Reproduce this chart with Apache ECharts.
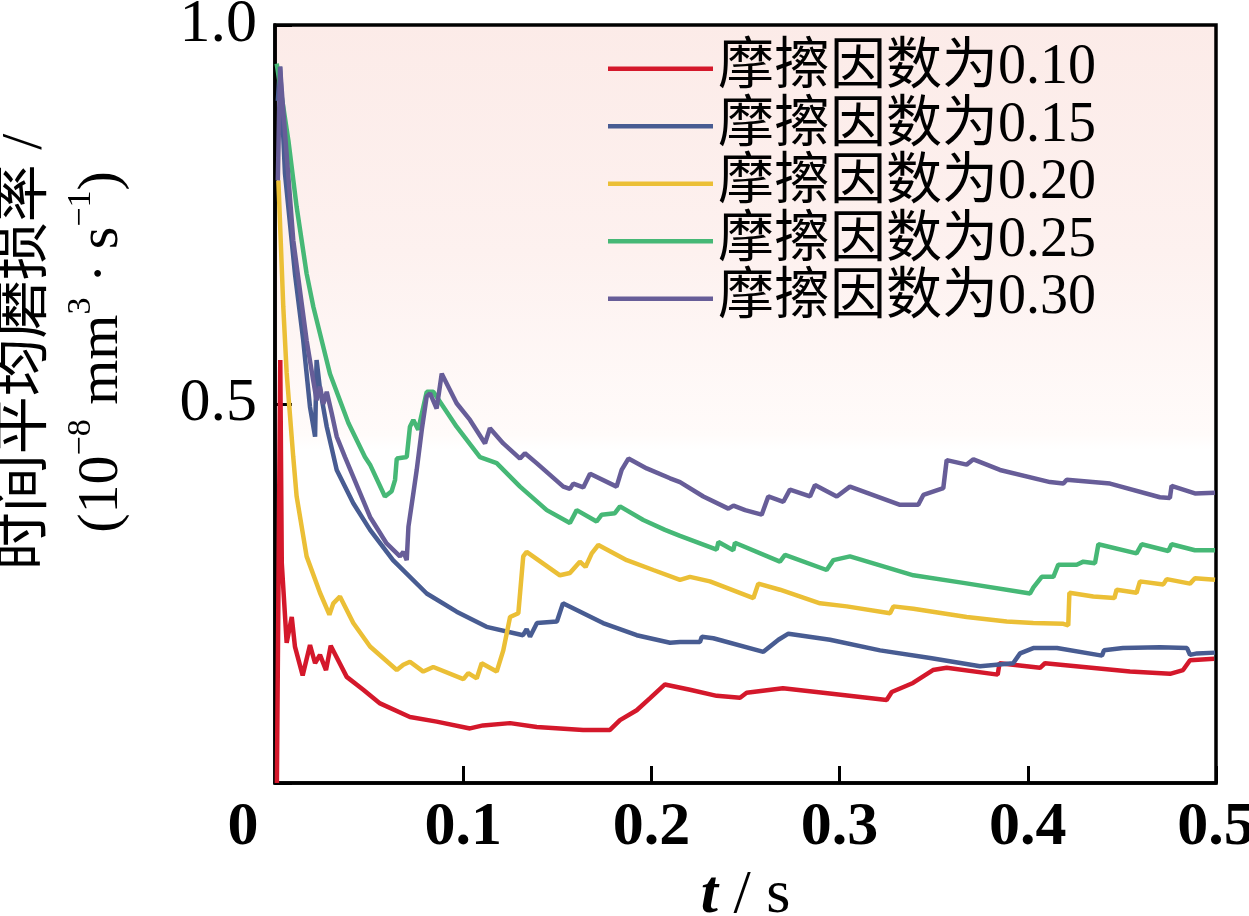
<!DOCTYPE html>
<html>
<head>
<meta charset="utf-8">
<script src="https://cdn.jsdelivr.net/npm/echarts@6/dist/echarts.min.js"></script>
<style>
html,body{margin:0;padding:0;background:#fff;}
#chart{width:1249px;height:916px;}
</style>
</head>
<body>
<div id="chart"></div>
<script>
// ---- data (t in s, time-averaged wear rate in 1e-8 mm^3/s) ----
const seriesNames = ['摩擦因数为0.10', '摩擦因数为0.15', '摩擦因数为0.20', '摩擦因数为0.25', '摩擦因数为0.30'];
const xTickLabels = ['0', '0.1', '0.2', '0.3', '0.4', '0.5'];
const yTickLabels = ['', '0.5', '1.0'];

const mu010 = [[0.001,0.0],[0.0028,0.558],[0.0036,0.29],[0.0062,0.185],[0.0089,0.219],[0.0106,0.18],[0.0147,0.142],[0.0186,0.182],[0.0213,0.158],[0.0239,0.169],[0.0271,0.149],[0.0296,0.181],[0.0381,0.140],[0.0469,0.123],[0.0558,0.105],[0.0717,0.087],[0.0859,0.081],[0.1036,0.072],[0.1105,0.076],[0.1249,0.079],[0.1391,0.074],[0.1637,0.070],[0.1780,0.070],[0.1833,0.083],[0.1922,0.096],[0.1993,0.112],[0.2072,0.130],[0.2205,0.123],[0.2347,0.115],[0.2471,0.1125],[0.2506,0.119],[0.2699,0.125],[0.2912,0.119],[0.3250,0.1095],[0.3277,0.120],[0.3390,0.132],[0.3496,0.149],[0.3569,0.152],[0.3840,0.143],[0.3850,0.158],[0.4065,0.152],[0.4091,0.158],[0.4543,0.147],[0.4756,0.144],[0.4825,0.149],[0.4862,0.162],[0.4990,0.164]];

const mu015 = [[0.0015,0.90],[0.0027,0.945],[0.0053,0.804],[0.0106,0.672],[0.015,0.584],[0.0186,0.496],[0.0213,0.457],[0.0221,0.558],[0.0239,0.52],[0.0275,0.47],[0.0328,0.413],[0.0416,0.369],[0.0505,0.334],[0.0627,0.294],[0.0806,0.250],[0.0965,0.226],[0.1124,0.206],[0.1318,0.195],[0.1337,0.203],[0.1355,0.193],[0.1392,0.211],[0.1498,0.213],[0.1530,0.237],[0.1743,0.211],[0.1922,0.195],[0.2099,0.185],[0.2152,0.186],[0.2258,0.186],[0.2268,0.193],[0.2329,0.191],[0.2595,0.173],[0.2675,0.189],[0.2728,0.197],[0.2949,0.189],[0.3215,0.175],[0.3481,0.165],[0.3746,0.154],[0.3922,0.158],[0.3959,0.171],[0.4029,0.178],[0.4155,0.178],[0.4394,0.168],[0.4405,0.175],[0.4506,0.178],[0.4702,0.179],[0.4846,0.178],[0.4862,0.169],[0.4899,0.171],[0.4995,0.172]];

const mu020 = [[0.0018,0.795],[0.0044,0.628],[0.0062,0.541],[0.0097,0.430],[0.0115,0.378],[0.0168,0.299],[0.0239,0.251],[0.0289,0.222],[0.031,0.237],[0.0345,0.246],[0.0416,0.211],[0.0505,0.180],[0.0647,0.149],[0.0682,0.156],[0.0717,0.160],[0.0788,0.147],[0.0841,0.153],[0.1001,0.137],[0.1027,0.145],[0.1072,0.138],[0.1098,0.158],[0.1178,0.147],[0.1213,0.175],[0.1249,0.219],[0.1293,0.224],[0.1319,0.299],[0.1337,0.305],[0.1514,0.274],[0.1567,0.277],[0.162,0.292],[0.1650,0.285],[0.1683,0.303],[0.1718,0.314],[0.1869,0.294],[0.201,0.281],[0.2152,0.268],[0.2205,0.272],[0.2311,0.266],[0.2542,0.244],[0.2568,0.263],[0.2683,0.255],[0.2896,0.237],[0.3038,0.233],[0.3268,0.224],[0.3286,0.233],[0.3392,0.230],[0.3675,0.219],[0.3888,0.213],[0.4029,0.211],[0.4189,0.210],[0.4215,0.208],[0.4221,0.251],[0.4348,0.246],[0.4460,0.244],[0.4472,0.255],[0.4578,0.251],[0.4596,0.266],[0.4720,0.262],[0.4738,0.269],[0.4862,0.263],[0.4888,0.270],[0.4995,0.268]];

const mu025 = [[0.0009,0.949],[0.0071,0.848],[0.0115,0.760],[0.0168,0.672],[0.0204,0.628],[0.0292,0.540],[0.0390,0.475],[0.0478,0.430],[0.0505,0.420],[0.0584,0.378],[0.0620,0.385],[0.0638,0.400],[0.0647,0.428],[0.0700,0.430],[0.0717,0.470],[0.0735,0.479],[0.0761,0.466],[0.0806,0.516],[0.0841,0.516],[0.0965,0.470],[0.1089,0.430],[0.1178,0.422],[0.1302,0.391],[0.1444,0.360],[0.1567,0.343],[0.1603,0.360],[0.1709,0.345],[0.1736,0.354],[0.1806,0.356],[0.1833,0.365],[0.1957,0.347],[0.2072,0.334],[0.2152,0.326],[0.2347,0.308],[0.2356,0.318],[0.2435,0.307],[0.2444,0.317],[0.2683,0.292],[0.2710,0.301],[0.2931,0.281],[0.2967,0.294],[0.3055,0.299],[0.3392,0.274],[0.3657,0.264],[0.4012,0.250],[0.4030,0.258],[0.4074,0.272],[0.4136,0.272],[0.4162,0.288],[0.4260,0.288],[0.4295,0.292],[0.4357,0.290],[0.4375,0.315],[0.4578,0.303],[0.4605,0.315],[0.4747,0.306],[0.4764,0.315],[0.4888,0.307],[0.4995,0.307]];

const mu030 = [[0.0015,0.795],[0.0027,0.945],[0.004,0.90],[0.0097,0.716],[0.0168,0.584],[0.0204,0.530],[0.0221,0.505],[0.0239,0.523],[0.0257,0.500],[0.0275,0.516],[0.0301,0.488],[0.0328,0.457],[0.0372,0.430],[0.0416,0.404],[0.0505,0.351],[0.0593,0.316],[0.0664,0.299],[0.0682,0.305],[0.0700,0.294],[0.0709,0.338],[0.0735,0.382],[0.0753,0.413],[0.0780,0.466],[0.0806,0.510],[0.0824,0.514],[0.0859,0.494],[0.0886,0.540],[0.0965,0.501],[0.1036,0.479],[0.1116,0.448],[0.1142,0.468],[0.1213,0.448],[0.1302,0.428],[0.1328,0.435],[0.1390,0.422],[0.1532,0.391],[0.1567,0.388],[0.1585,0.395],[0.1638,0.390],[0.1674,0.408],[0.1815,0.391],[0.1842,0.413],[0.1878,0.428],[0.1975,0.415],[0.2099,0.402],[0.2152,0.397],[0.2276,0.378],[0.2409,0.362],[0.2436,0.366],[0.2498,0.360],[0.2586,0.354],[0.2621,0.378],[0.2701,0.371],[0.2736,0.387],[0.2843,0.378],[0.2869,0.393],[0.2985,0.378],[0.3055,0.391],[0.3321,0.367],[0.3418,0.367],[0.3445,0.380],[0.3551,0.389],[0.3569,0.426],[0.3675,0.420],[0.3711,0.427],[0.3852,0.413],[0.4118,0.397],[0.4189,0.395],[0.4207,0.400],[0.4437,0.395],[0.4702,0.377],[0.4755,0.376],[0.4764,0.392],[0.4888,0.382],[0.4995,0.383]];

const seriesData = [mu010, mu015, mu020, mu025, mu030];
const seriesColors = ['#d4182b', '#485c92', '#ebbf36', '#46b876', '#675d98'];

const SERIF = '"Liberation Serif", "Times New Roman", "Noto Sans CJK SC", serif';

const chart = echarts.init(document.getElementById('chart'), null, {renderer: 'canvas'});

const option = {
  animation: false,
  backgroundColor: '#ffffff',
  grid: {
    left: 275, right: 33, top: 25, bottom: 133,
    containLabel: false,
    outerBoundsMode: 'none',
    show: true,
    borderColor: '#000', borderWidth: 3.5,
    backgroundColor: {
      type: 'linear', x: 0, y: 0, x2: 0, y2: 1,
      colorStops: [
        {offset: 0, color: '#fcebe8'},
        {offset: 0.3, color: '#fdf1ef'},
        {offset: 0.54, color: '#fffbfa'},
        {offset: 0.56, color: '#ffffff'},
        {offset: 1, color: '#ffffff'}
      ]
    }
  },
  legend: {
    orient: 'vertical',
    left: 608, top: 40,
    padding: 0,
    itemGap: 0,
    itemWidth: 105, itemHeight: 20,
    data: seriesNames.map((n, i) => ({name: n, icon: 'path://M0,0 L105,0 L105,4.5 L0,4.5 Z', itemStyle: {color: seriesColors[i]}})),
    textStyle: {fontFamily: SERIF, fontSize: 56, lineHeight: 57.5, color: '#000', fontWeight: 'normal'}
  },
  xAxis: {
    type: 'value', min: 0, max: 0.5, interval: 0.1,
    axisLine: {show: true, lineStyle: {color: '#000', width: 3.5}},
    axisTick: {show: true, inside: true, length: 17, lineStyle: {color: '#000', width: 3}},
    splitLine: {show: false},
    axisLabel: {
      margin: 14,
      fontFamily: SERIF, fontSize: 62, fontWeight: 'bold', color: '#000',
      formatter: function (v) {
        const idx = Math.round(v * 10);
        if (idx === 0) return '{z|' + xTickLabels[0] + '}';
        return xTickLabels[idx];
      },
      rich: {z: {fontFamily: SERIF, fontSize: 62, fontWeight: 'bold', color: '#000', padding: [0, 64, 0, 0]}}
    },
    name: '{i|t} / s',
    nameLocation: 'middle',
    nameGap: 82,
    nameTextStyle: {
      fontFamily: SERIF, fontSize: 62, color: '#000', fontWeight: 'normal',
      rich: {i: {fontFamily: SERIF, fontSize: 62, fontStyle: 'italic', fontWeight: 'bold', color: '#000'}}
    }
  },
  yAxis: {
    type: 'value', min: 0, max: 1, interval: 0.5,
    axisLine: {show: true, lineStyle: {color: '#000', width: 3.5}},
    axisTick: {show: true, inside: true, length: 17, lineStyle: {color: '#000', width: 3}},
    splitLine: {show: false},
    axisLabel: {
      margin: 18,
      fontFamily: SERIF, fontSize: 62, color: '#000', fontWeight: 'normal',
      formatter: function (v) { return yTickLabels[Math.round(v * 2)]; }
    },
    name: '时间平均磨损率 /\n(10{sup|−8} mm{sup|3} · s{sup|−1})',
    nameLocation: 'middle',
    nameRotate: 90,
    nameGap: 135,
    nameTextStyle: {
      fontFamily: SERIF, fontSize: 58, color: '#000', lineHeight: 76, fontWeight: 'normal',
      padding: [0, 0, 0, 104],
      rich: {sup: {fontFamily: SERIF, fontSize: 34, color: '#000', fontWeight: 'normal', verticalAlign: 'top', lineHeight: 60}}
    }
  },
  series: seriesNames.map((n, i) => ({
    name: n,
    type: 'line',
    data: seriesData[i],
    symbol: 'none',
    smooth: false,
    lineStyle: {color: seriesColors[i], width: 4.5},
    itemStyle: {color: seriesColors[i]},
    z: 2 + i
  }))
};
chart.setOption(option);
</script>
</body>
</html>
